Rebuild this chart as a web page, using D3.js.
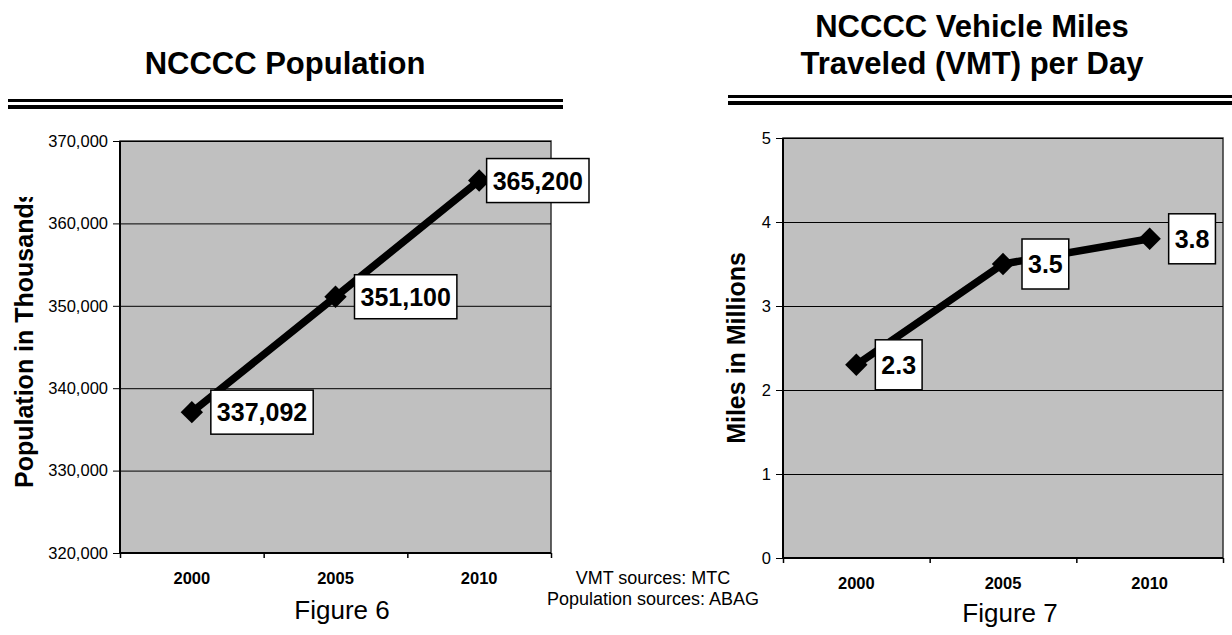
<!DOCTYPE html>
<html lang="en">
<head>
    <meta charset="UTF-8">
    <script src="https://cdn.jsdelivr.net/npm/d3@7"></script>
    <title>NCCCC Population and VMT</title>
    <style>
        body { margin: 0; background: white; }
        svg { display: block; font-family: "Liberation Sans", Arial, sans-serif; }
        .domain { display: none; }
    </style>
</head>
<body>
    <svg id="chart" width="1232" height="635"></svg>

    <script>
        // data
        const years = ["2000", "2005", "2010"];
        const popValues = [337092, 351100, 365200];
        const popTicks = [320000, 330000, 340000, 350000, 360000, 370000];
        const vmtValues = [2.3, 3.5, 3.8];
        const vmtTicks = [0, 1, 2, 3, 4, 5];
        const sourceLines = ["VMT sources: MTC", "Population sources: ABAG"];

        const svg = d3.select("#chart");

        function drawChart(c) {
            const g = svg.append("g");

            // title and double rule
            const title = g.append("text")
                .attr("text-anchor", "middle")
                .style("font-size", "31px")
                .style("font-weight", "bold");
            c.title.forEach((t, i) => {
                title.append("tspan")
                    .attr("x", c.titleX)
                    .attr("y", c.titleY - (c.title.length - 1 - i) * 37)
                    .text(t);
            });
            g.append("line").attr("x1", c.ruleX[0]).attr("x2", c.ruleX[1])
                .attr("y1", c.ruleY).attr("y2", c.ruleY)
                .attr("stroke", "black").attr("stroke-width", 3);
            g.append("line").attr("x1", c.ruleX[0]).attr("x2", c.ruleX[1])
                .attr("y1", c.ruleY + 6.5).attr("y2", c.ruleY + 6.5)
                .attr("stroke", "black").attr("stroke-width", 4);

            const x = d3.scaleBand().domain(years).range([c.left, c.right]);
            const xEdge = d3.scaleLinear().domain([0, years.length]).range([c.left, c.right]);
            const y = d3.scaleLinear().domain(d3.extent(c.ticks)).range([c.bottom, c.top]);

            // plot area
            g.append("rect")
                .attr("x", c.left).attr("y", c.top)
                .attr("width", c.right - c.left).attr("height", c.bottom - c.top)
                .attr("fill", "#c0c0c0")
                .attr("stroke", "#333").attr("stroke-width", 1.5);

            // gridlines
            g.append("g")
                .attr("transform", `translate(${c.left},0)`)
                .call(d3.axisLeft(y).tickValues(c.ticks).tickSize(-(c.right - c.left)).tickFormat(""))
                .call(s => s.selectAll(".tick line").attr("stroke", "black").attr("stroke-width", 1));

            // y axis
            g.append("g")
                .attr("transform", `translate(${c.left},0)`)
                .call(d3.axisLeft(y).tickValues(c.ticks).tickSize(7).tickPadding(5).tickFormat(c.format))
                .attr("font-family", null).attr("font-size", null)
                .call(s => s.selectAll("text").style("font-size", "16.5px").attr("fill", "black"));
            g.append("line").attr("x1", c.left).attr("x2", c.left)
                .attr("y1", c.top).attr("y2", c.bottom)
                .attr("stroke", "black").attr("stroke-width", 2);

            // x axis: ticks on category edges, labels at centres
            g.append("g")
                .attr("transform", `translate(0,${c.bottom})`)
                .call(d3.axisBottom(xEdge).tickValues(d3.range(years.length + 1)).tickSize(5).tickFormat(""))
                .call(s => s.selectAll(".tick line").attr("stroke-width", 1.5));
            g.append("g")
                .attr("transform", `translate(0,${c.bottom})`)
                .call(d3.axisBottom(x).tickSize(0).tickPadding(19))
                .attr("font-family", null).attr("font-size", null)
                .call(s => s.selectAll("text").style("font-size", "16.5px").style("font-weight", "bold").attr("fill", "black"));
            g.append("line").attr("x1", c.left).attr("x2", c.right)
                .attr("y1", c.bottom).attr("y2", c.bottom)
                .attr("stroke", "black").attr("stroke-width", 2);

            // y axis title, clipped at the top like the original
            const clipId = "clip" + c.id;
            svg.append("clipPath").attr("id", clipId)
                .append("rect").attr("x", 0).attr("y", c.yTitleClip)
                .attr("width", 1232).attr("height", 635);
            g.append("g")
                .attr("clip-path", `url(#${clipId})`)
                .append("text")
                .attr("transform", `translate(${c.yTitleX},${c.yTitleY}) rotate(-90)`)
                .attr("text-anchor", c.yTitleAnchor)
                .style("font-size", "25px")
                .style("font-weight", "bold")
                .text(c.yTitle);

            // series line and markers
            const pts = years.map((yr, i) => [x(yr) + x.bandwidth() / 2, y(c.values[i]), c.values[i]]);
            g.append("path")
                .datum(pts)
                .attr("d", d3.line())
                .attr("fill", "none")
                .attr("stroke", "black")
                .attr("stroke-width", 7.5);
            g.selectAll(".marker")
                .data(pts)
                .join("path")
                .attr("class", "marker")
                .attr("d", d3.symbol(d3.symbolSquare, 250))
                .attr("transform", d => `translate(${d[0]},${d[1]}) rotate(45)`)
                .attr("fill", "black");

            // data label boxes
            const labels = g.selectAll(".lbl")
                .data(pts)
                .join("g")
                .attr("class", "lbl");
            labels.each(function (d) {
                const lg = d3.select(this);
                const txt = lg.append("text")
                    .style("font-size", "25px")
                    .style("font-weight", "bold")
                    .attr("text-anchor", "middle")
                    .text(c.format(d[2]));
                const w = txt.node().getComputedTextLength() + 12;
                const bx = Math.min(d[0] + 19, c.right + 38 - w);
                lg.insert("rect", "text")
                    .attr("x", bx).attr("y", d[1] - c.boxH / 2)
                    .attr("width", w).attr("height", c.boxH)
                    .attr("fill", "white").attr("stroke", "black").attr("stroke-width", 1.5);
                txt.attr("x", bx + w / 2).attr("y", d[1] + 9);
            });

            // figure caption
            g.append("text")
                .attr("x", c.captionX).attr("y", c.captionY)
                .attr("text-anchor", "middle")
                .style("font-size", "26px")
                .text(c.caption);
        }

        drawChart({
            id: "pop", title: ["NCCCC Population"], titleX: 285, titleY: 74,
            ruleX: [8, 563], ruleY: 100.5,
            left: 120, right: 551, top: 141, bottom: 553,
            ticks: popTicks, values: popValues, format: d3.format(","),
            yTitle: "Population in Thousands", yTitleX: 33, yTitleY: 488, yTitleAnchor: "start", yTitleClip: 197,
            boxH: 44, caption: "Figure 6", captionX: 342, captionY: 619
        });

        drawChart({
            id: "vmt", title: ["NCCCC Vehicle Miles", "Traveled (VMT) per Day"], titleX: 972, titleY: 74,
            ruleX: [728, 1232], ruleY: 96.5,
            left: 783, right: 1223, top: 138, bottom: 558,
            ticks: vmtTicks, values: vmtValues, format: d3.format("~g"),
            yTitle: "Miles in Millions", yTitleX: 745, yTitleY: 348, yTitleAnchor: "middle", yTitleClip: 0,
            boxH: 50, caption: "Figure 7", captionX: 1010, captionY: 622
        });

        // sources note between the charts
        svg.append("g").selectAll("text")
            .data(sourceLines)
            .join("text")
            .attr("x", 653)
            .attr("y", (d, i) => 583.5 + i * 21)
            .attr("text-anchor", "middle")
            .style("font-size", "18px")
            .text(d => d);
    </script>
</body>
</html>
